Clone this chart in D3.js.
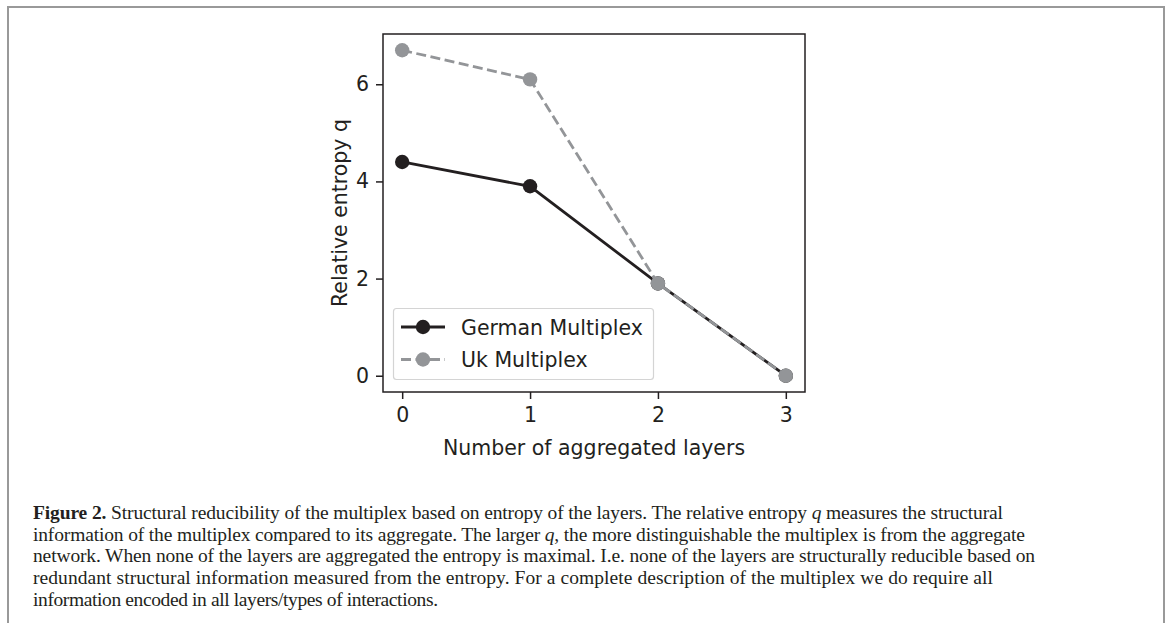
<!DOCTYPE html>
<html>
<head>
<meta charset="utf-8">
<script src="https://cdn.jsdelivr.net/npm/d3@7"></script>
<style>
  body { margin: 0; background: #fff; }
  svg { display: block; }
</style>
</head>
<body>
<div id="chart"></div>
<script>
const layers = [0, 1, 2, 3]
const germanValues = [4.4, 3.9, 1.9, 0]
const ukValues = [6.7, 6.1, 1.9, 0]
const yTicks = [0, 2, 4, 6]
const seriesNames = ['German Multiplex', 'Uk Multiplex']

const captionLines = [
    [{ t: 'Figure 2.', b: true }, { t: ' Structural reducibility of the multiplex based on entropy of the layers. The relative entropy ' }, { t: 'q', i: true }, { t: ' measures the structural' }],
    [{ t: 'information of the multiplex compared to its aggregate. The larger ' }, { t: 'q', i: true }, { t: ', the more distinguishable the multiplex is from the aggregate' }],
    [{ t: 'network. When none of the layers are aggregated the entropy is maximal. I.e. none of the layers are structurally reducible based on' }],
    [{ t: 'redundant structural information measured from the entropy. For a complete description of the multiplex we do require all' }],
    [{ t: 'information encoded in all layers/types of interactions.' }]
]
const captionWidths = [970, 992, 1002, 960, 405]

const W = 1170, H = 623
const plot = { left: 383, right: 805, top: 34, bottom: 392 }
const font = 'DejaVu Sans, sans-serif'
const fontSize = 20.5
const colors = { german: '#231f20', uk: '#939598' }

const svg = d3.select('#chart')
    .append('svg')
        .attr('width', W)
        .attr('height', H)

// page frame (no bottom edge)
svg.append('path')
    .attr('d', `M8,${H} V7 H1164 V${H}`)
    .attr('fill', 'none')
    .attr('stroke', '#999')
    .attr('stroke-width', 2)

const x = d3.scaleLinear()
    .domain([-0.15, 3.15])
    .range([plot.left, plot.right])

const y = d3.scaleLinear()
    .domain([-0.335, 7.035])
    .range([plot.bottom, plot.top])

const xAxis = svg.append('g')
    .attr('transform', `translate(0, ${plot.bottom})`)
    .call(d3.axisBottom(x).tickValues(layers).tickFormat(d3.format('d')).tickSize(7).tickPadding(8).tickSizeOuter(0))

const yAxis = svg.append('g')
    .attr('transform', `translate(${plot.left}, 0)`)
    .call(d3.axisLeft(y).tickValues(yTicks).tickFormat(d3.format('d')).tickSize(7).tickPadding(7).tickSizeOuter(0))

;[xAxis, yAxis].forEach(g => {
    g.select('.domain').remove()
    g.selectAll('line').attr('stroke', '#231f20').attr('stroke-width', 1.5)
    g.selectAll('text')
        .attr('fill', '#231f20')
        .style('font-family', font)
        .style('font-size', fontSize + 'px')
})

// frame of the axes
svg.append('rect')
    .attr('x', plot.left)
    .attr('y', plot.top)
    .attr('width', plot.right - plot.left)
    .attr('height', plot.bottom - plot.top)
    .attr('fill', 'none')
    .attr('stroke', '#231f20')
    .attr('stroke-width', 1.5)

svg.append('text')
    .attr('x', (plot.left + plot.right) / 2)
    .attr('y', 455)
    .attr('text-anchor', 'middle')
    .attr('fill', '#231f20')
    .style('font-family', font)
    .style('font-size', fontSize + 'px')
    .text('Number of aggregated layers')

svg.append('text')
    .attr('transform', `translate(347, ${(plot.top + plot.bottom) / 2}) rotate(-90)`)
    .attr('text-anchor', 'middle')
    .attr('fill', '#231f20')
    .style('font-family', font)
    .style('font-size', fontSize + 'px')
    .text('Relative entropy q')

const line = d3.line()
    .x((d, i) => x(layers[i]))
    .y(d => y(d))

const series = [
    { values: germanValues, color: colors.german, dash: null },
    { values: ukValues, color: colors.uk, dash: '10,4.5' }
]

series.forEach(s => {
    svg.append('path')
        .datum(s.values)
        .attr('d', line)
        .attr('fill', 'none')
        .attr('stroke', s.color)
        .attr('stroke-width', 2.8)
        .attr('stroke-dasharray', s.dash)

    svg.selectAll(null)
        .data(s.values)
        .enter()
        .append('circle')
            .attr('cx', (d, i) => x(layers[i]))
            .attr('cy', d => y(d))
            .attr('r', 7.2)
            .attr('fill', s.color)
})

// legend
const legend = svg.append('g')
legend.append('rect')
    .attr('x', 393.5)
    .attr('y', 308.5)
    .attr('width', 260)
    .attr('height', 71)
    .attr('rx', 3)
    .attr('fill', '#fff')
    .attr('fill-opacity', 0.8)
    .attr('stroke', '#d4d4d4')
    .attr('stroke-width', 1.2)

series.forEach((s, i) => {
    const ly = 327 + i * 32.5
    legend.append('line')
        .attr('x1', 401)
        .attr('x2', 445)
        .attr('y1', ly)
        .attr('y2', ly)
        .attr('stroke', s.color)
        .attr('stroke-width', 2.8)
        .attr('stroke-dasharray', s.dash)
    legend.append('circle')
        .attr('cx', 423)
        .attr('cy', ly)
        .attr('r', 7.2)
        .attr('fill', s.color)
    legend.append('text')
        .attr('x', 461)
        .attr('y', ly + 7.5)
        .attr('fill', '#231f20')
        .style('font-family', font)
        .style('font-size', fontSize + 'px')
        .text(seriesNames[i])
})

// caption
const caption = svg.append('g')
    .style('font-family', 'Liberation Serif, serif')
    .style('font-size', '19.5px')
    .attr('fill', '#231f20')

captionLines.forEach((parts, i) => {
    const t = caption.append('text')
        .attr('x', 33)
        .attr('y', 519 + i * 21.7)
    if (captionWidths[i]) {
        t.attr('textLength', captionWidths[i]).attr('lengthAdjust', 'spacing')
    }
    parts.forEach(p => {
        t.append('tspan')
            .attr('font-weight', p.b ? 'bold' : null)
            .attr('font-style', p.i ? 'italic' : null)
            .text(p.t)
    })
})
</script>
</body>
</html>
